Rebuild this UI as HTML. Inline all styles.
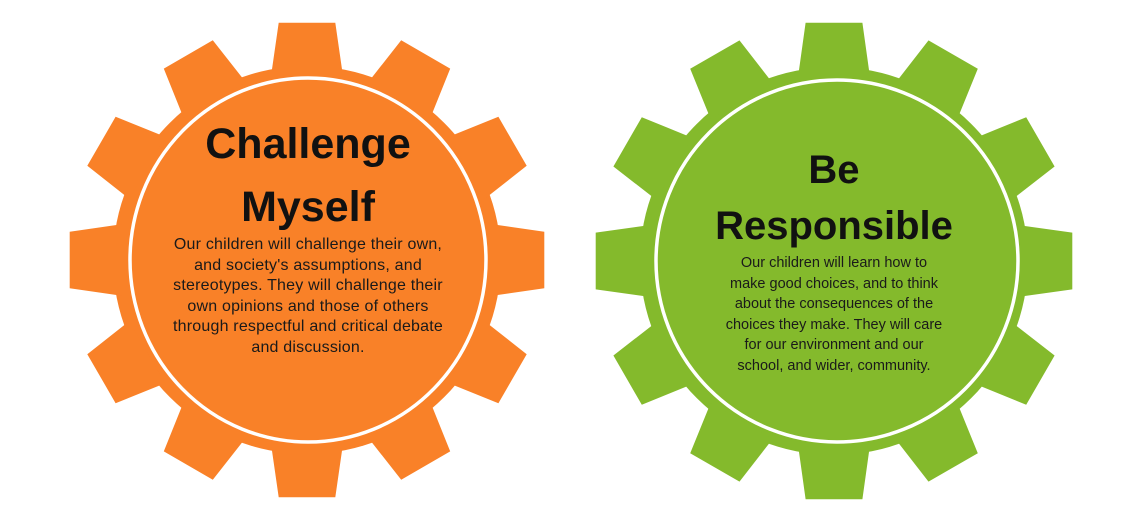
<!DOCTYPE html>
<html><head><meta charset="utf-8">
<style>
html,body{margin:0;padding:0;background:#fff;}
body{width:1140px;height:513px;position:relative;overflow:hidden;font-family:"Liberation Sans",sans-serif;}
svg{position:absolute;left:0;top:0;}
.t{position:absolute;text-align:center;color:#111;}
.h{font-weight:bold;font-size:40px;line-height:56px;}
.b{font-size:14.5px;line-height:20.5px;color:#1a1a1a;}
</style></head><body>
<svg width="1140" height="513" viewBox="0 0 1140 513">
<circle cx="307" cy="260" r="194" fill="#F98128"/>
<path id="g1" fill="#F98128"/>
<circle cx="834" cy="261" r="194" fill="#84BA2C"/>
<path id="g2" fill="#84BA2C"/>
<ellipse cx="308" cy="260" rx="178" ry="182" fill="none" stroke="#fff" stroke-width="3.5"/>
<ellipse cx="837" cy="261" rx="181" ry="181" fill="none" stroke="#fff" stroke-width="3.5"/>
</svg>
<div class="t h" style="left:108px;width:400px;top:113px;font-size:43px;line-height:63px;">Challenge<br>Myself</div>
<div class="t b" style="left:118px;width:380px;top:235px;font-size:16px;line-height:20.5px;letter-spacing:0.2px;">Our children will challenge their own,<br>and society's assumptions, and<br>stereotypes. They will challenge their<br>own opinions and those of others<br>through respectful and critical debate<br>and discussion.</div>
<div class="t h" style="left:634px;width:400px;top:142px;">Be<br>Responsible</div>
<div class="t b" style="left:674px;width:320px;top:253px;">Our children will learn how to<br>make good choices, and to think<br>about the consequences of the<br>choices they make. They will care<br>for our environment and our<br>school, and wider, community.</div>
<script>
function gear(cx,cy,ro,ri,n,ao,ai){
  var d="",r=Math.PI/180;
  for(var i=0;i<n;i++){
    var c=(i*360/n-90);
    var pts=[[ri,c-ai],[ro,c-ao],[ro,c+ao],[ri,c+ai]];
    pts.forEach(function(p,j){
      var x=cx+p[0]*Math.cos(p[1]*r),y=cy+p[0]*Math.sin(p[1]*r);
      d+=(j==0?"M":"L")+x.toFixed(1)+" "+y.toFixed(1)+" ";
    });
    d+="Z ";
  }
  return d;
}
document.getElementById("g1").setAttribute("d",gear(307,260,239,188,12,6.8,11));
document.getElementById("g2").setAttribute("d",gear(834,261,240,188,12,6.8,11));
</script>
</body></html>
